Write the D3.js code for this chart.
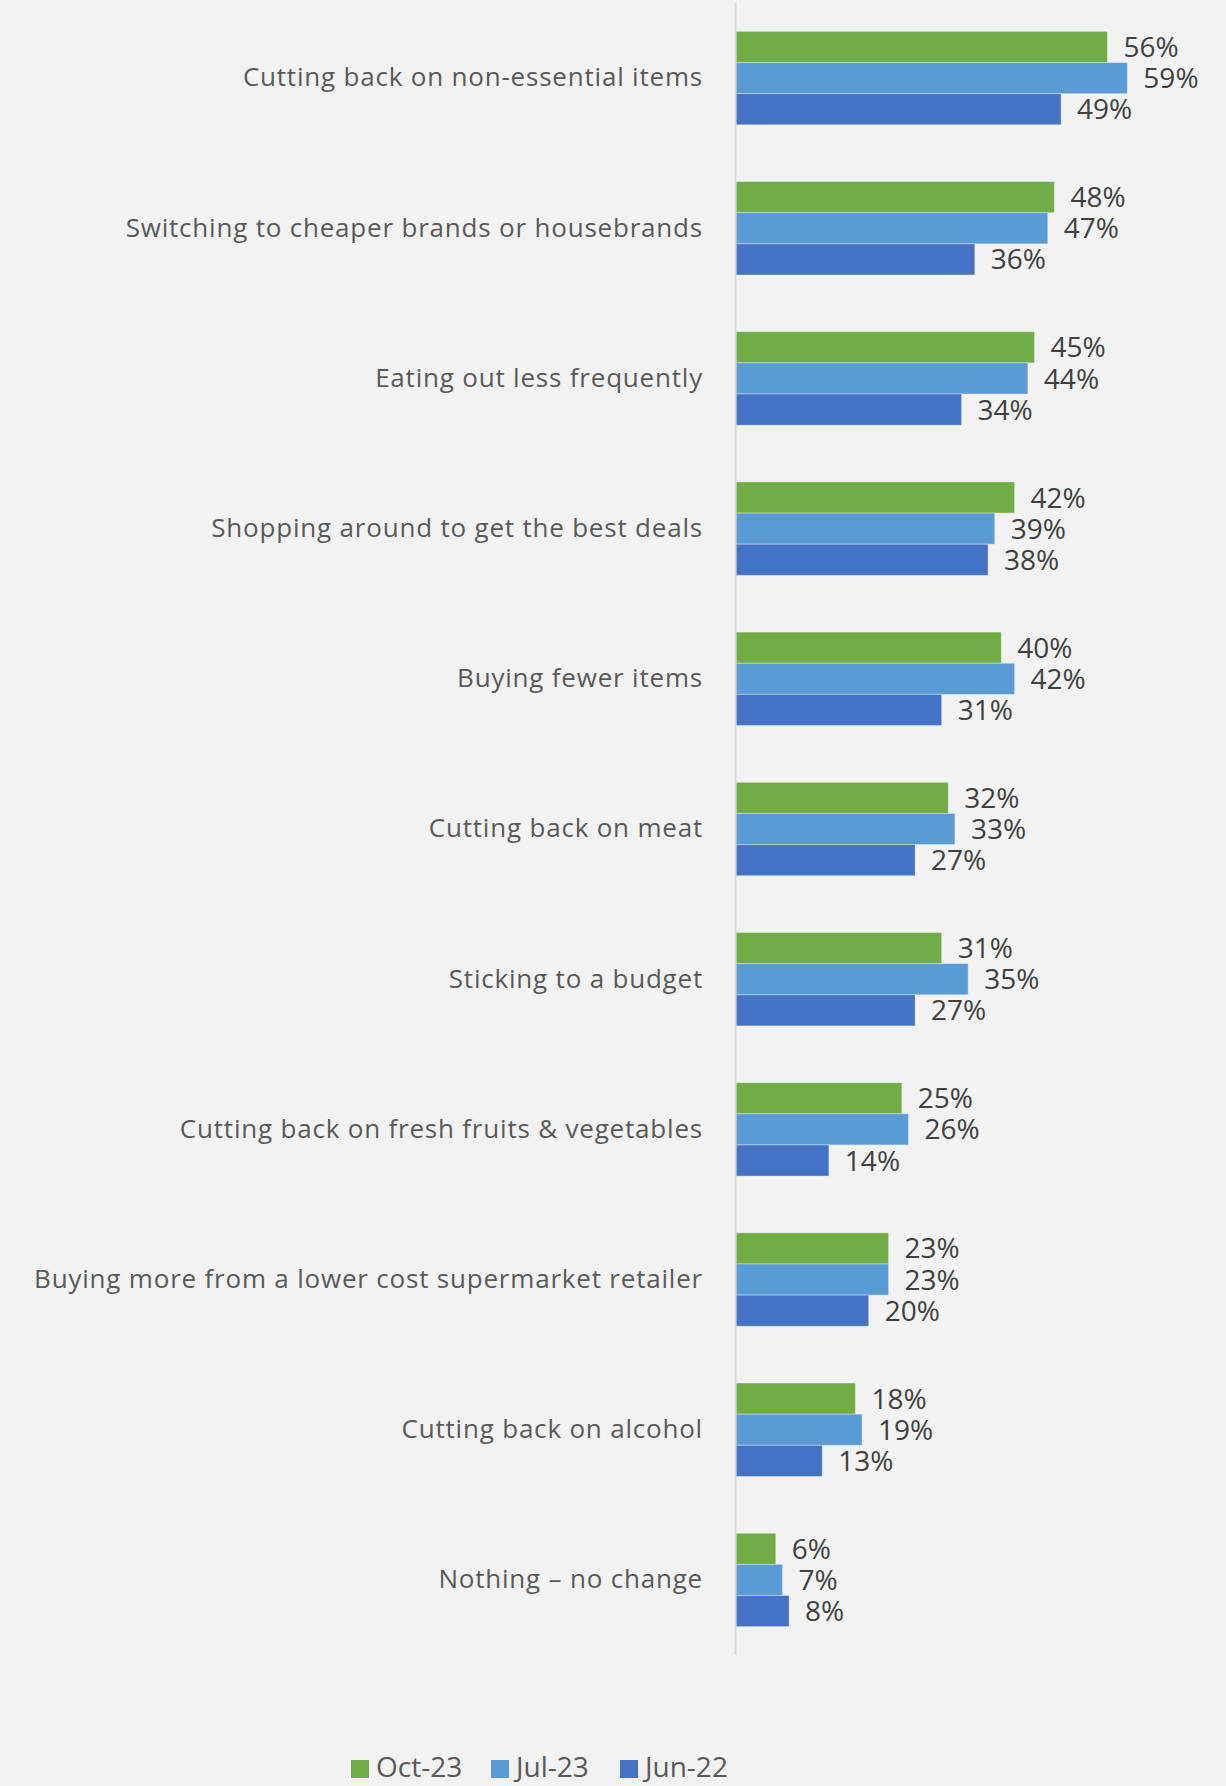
<!DOCTYPE html>
<html lang="en">
<head>
<meta charset="utf-8">
<title>Cost of living actions</title>
<script src="https://d3js.org/d3.v7.min.js"></script>
<style>
    body {
        margin: 0;
        background: #F2F2F2;
    }
    svg {
        display: block;
    }
    .cat {
        font-family: 'Open Sans', sans-serif;
        font-size: 26px;
        letter-spacing: 0.8px;
        fill: #595959;
    }
    .val {
        font-family: 'Open Sans', sans-serif;
        font-size: 28px;
        fill: #404040;
    }
    .leg {
        font-family: 'Open Sans', sans-serif;
        font-size: 28px;
        fill: #595959;
    }
</style>
</head>
<body>
<svg width="1226" height="1786"></svg>
<script>
// chart data
var categories = [
    "Cutting back on non-essential items",
    "Switching to cheaper brands or housebrands",
    "Eating out less frequently",
    "Shopping around to get the best deals",
    "Buying fewer items",
    "Cutting back on meat",
    "Sticking to a budget",
    "Cutting back on fresh fruits & vegetables",
    "Buying more from a lower cost supermarket retailer",
    "Cutting back on alcohol",
    "Nothing \u2013 no change"
];
var seriesNames = ["Oct-23", "Jul-23", "Jun-22"];
var oct23 = [56, 48, 45, 42, 40, 32, 31, 25, 23, 18, 6];
var jul23 = [59, 47, 44, 39, 42, 33, 35, 26, 23, 19, 7];
var jun22 = [49, 36, 34, 38, 31, 27, 27, 14, 20, 13, 8];
var colors = ["#70AD47", "#5B9BD5", "#4472C4"];

var seriesValues = [oct23, jul23, jun22];

var svg = d3.select("svg"),
    margin = {top: 3, right: 30, bottom: 131, left: 735},
    height = +svg.attr("height") - margin.top - margin.bottom;

var g = svg.append("g").attr("transform", "translate(" + margin.left + "," + margin.top + ")");

var y = d3.scaleBand()
    .domain(categories)
    .range([0, height])
    .paddingInner(0.378)
    .paddingOuter(0.189);

var y1 = d3.scaleBand()
    .domain(seriesNames)
    .range([0, y.bandwidth()]);

var x = d3.scaleLinear()
    .domain([0, 60])
    .range([0, 398]);

var rows = categories.map(function(c, i) {
    return {cat: c, vals: seriesNames.map(function(s, j) {
        return {series: s, value: seriesValues[j][i], color: colors[j]};
    })};
});

var groups = g.selectAll(".group")
    .data(rows)
    .enter().append("g")
    .attr("class", "group")
    .attr("transform", function(d) { return "translate(0," + y(d.cat) + ")"; });

groups.selectAll("rect")
    .data(function(d) { return d.vals; })
    .enter().append("rect")
    .attr("x", 1)
    .attr("y", function(d) { return y1(d.series); })
    .attr("width", function(d) { return x(d.value); })
    .attr("height", y1.bandwidth())
    .attr("fill", function(d) { return d.color; })
    .attr("stroke", "#ffffff")
    .attr("stroke-opacity", 0.35)
    .attr("stroke-width", 1);

groups.selectAll(".val")
    .data(function(d) { return d.vals; })
    .enter().append("text")
    .attr("class", "val")
    .attr("x", function(d) { return x(d.value) + 17; })
    .attr("y", function(d) { return y1(d.series) + y1.bandwidth() / 2; })
    .attr("dy", "0.36em")
    .text(function(d) { return d.value + "%"; });

// category axis
var yAxis = g.append("g")
    .call(d3.axisLeft(y).tickSize(0).tickPadding(32));
yAxis.select(".domain")
    .attr("d", "M0.5,0V" + height)
    .attr("stroke", "#D9D9D9")
    .attr("stroke-width", 2);
yAxis.selectAll(".tick text")
    .attr("class", "cat")
    .attr("font-family", null)
    .attr("font-size", null)
    .attr("fill", null);

// legend
var legendX = [351, 491, 620];
var legend = svg.append("g")
    .selectAll("g")
    .data(seriesNames)
    .enter().append("g")
    .attr("transform", function(d, i) { return "translate(" + legendX[i] + ",1760)"; });
legend.append("rect")
    .attr("width", 18)
    .attr("height", 18)
    .attr("fill", function(d, i) { return colors[i]; });
legend.append("text")
    .attr("class", "leg")
    .attr("x", 25)
    .attr("y", 17)
    .text(function(d) { return d; });
</script>
</body>
</html>
